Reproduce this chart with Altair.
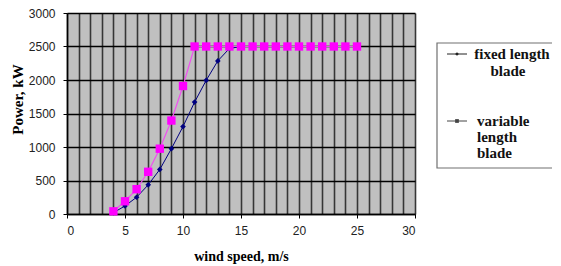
import altair as alt
import pandas as pd

# ---- data ----
wind_fixed = list(range(4, 26))
power_fixed = [20, 120, 250, 435, 665, 975, 1305, 1670, 1995, 2285, 2470,
               2500, 2500, 2500, 2500, 2500, 2500, 2500, 2500, 2500, 2500, 2500]
wind_var = list(range(4, 26))
power_var = [40, 190, 370, 630, 975, 1395, 1910, 2500, 2500, 2500, 2500,
             2500, 2500, 2500, 2500, 2500, 2500, 2500, 2500, 2500, 2500, 2500]
x_ticks = list(range(0, 31))
y_ticks = [0, 500, 1000, 1500, 2000, 2500, 3000]

df_fixed = pd.DataFrame({"wind": wind_fixed, "power": power_fixed})
df_var = pd.DataFrame({"wind": wind_var, "power": power_var})

SERIF = "Liberation Serif"
SANS = "Liberation Sans"

xs = alt.Scale(domain=[0, 30], nice=False)
ys = alt.Scale(domain=[0, 3000], nice=False)

xaxis = alt.Axis(
    values=x_ticks,
    labelExpr="datum.value % 5 === 0 ? datum.label : ''",
    grid=True, gridColor="#363636", gridWidth=1.6,
    tickColor={"condition": {"test": "datum.value % 5 === 0", "value": "black"}, "value": "transparent"},
    tickSize=4, domainColor="black", domainWidth=1.5,
    labelFont=SANS, labelFontSize=12, labelColor="#222", labelPadding=7,
    title="wind speed, m/s", titleFont=SERIF, titleFontSize=14, titleFontWeight="bold",
    titleColor="black", titlePadding=13,
)
yaxis = alt.Axis(
    values=y_ticks, format="d",
    grid=True, gridColor="black", gridWidth=1.5,
    tickSize=4, tickColor="black", domainColor="black", domainWidth=1.5,
    labelFont=SANS, labelFontSize=12, labelColor="#222", labelPadding=8,
    title="Power, kW", titleFont=SERIF, titleFontSize=15, titleFontWeight="bold",
    titleColor="black", titlePadding=3, titleY=86,
)

fx = alt.X("wind:Q", scale=xs, axis=xaxis)
fy = alt.Y("power:Q", scale=ys, axis=yaxis)

NAVY = "#000080"
PINK = "#FF00FF"

l_fixed = alt.Chart(df_fixed).mark_line(color=NAVY, strokeWidth=1).encode(x=fx, y=fy)
p_fixed = alt.Chart(df_fixed).mark_point(shape="diamond", filled=True, color=NAVY,
                                         size=32, opacity=1).encode(x=fx, y=fy)
l_var = alt.Chart(df_var).mark_line(color="#f050f0", strokeWidth=1.2).encode(x=fx, y=fy)
p_var = alt.Chart(df_var).mark_square(color=PINK, size=70, opacity=1).encode(x=fx, y=fy)

# ---- hand-drawn legend box (outside the plot area) ----
one = pd.DataFrame({"k": [0]})
leg = alt.Chart(one)
box = leg.mark_rect(fill="white", stroke="#707070", strokeWidth=1.2).encode(
    x=alt.value(370), x2=alt.value(489), y=alt.value(30), y2=alt.value(155))
sym1 = leg.mark_rule(color="#222", strokeWidth=1).encode(
    x=alt.value(380), x2=alt.value(400), y=alt.value(41))
dot1 = leg.mark_point(shape="diamond", filled=True, color="#222", size=14, opacity=1).encode(
    x=alt.value(390), y=alt.value(41))
sym2 = leg.mark_rule(color="#444", strokeWidth=1).encode(
    x=alt.value(380), x2=alt.value(400), y=alt.value(108))
dot2 = leg.mark_square(color="#444", size=14, opacity=1).encode(
    x=alt.value(390), y=alt.value(108))

def txt(s, x, y, align):
    return leg.mark_text(font=SERIF, fontSize=15, fontWeight="bold", color="#111",
                         align=align, baseline="middle").encode(
        x=alt.value(x), y=alt.value(y), text=alt.value(s))

texts = [
    txt("fixed length", 445, 41, "center"),
    txt("blade", 441, 58, "center"),
    txt("variable", 410, 108, "left"),
    txt("length", 410, 124, "left"),
    txt("blade", 410, 140, "left"),
]

chart = alt.layer(l_fixed, p_fixed, l_var, p_var, box, sym1, dot1, sym2, dot2, *texts).properties(
    width=348, height=201,
    autosize=alt.AutoSizeParams(type="none"),
    padding={"left": 59, "top": 5, "right": 137, "bottom": 50},
    background="white",
).configure_view(fill="#C0C0C0", stroke=None)

chart.save("out.html", embed_options={"renderer": "svg", "actions": False})
